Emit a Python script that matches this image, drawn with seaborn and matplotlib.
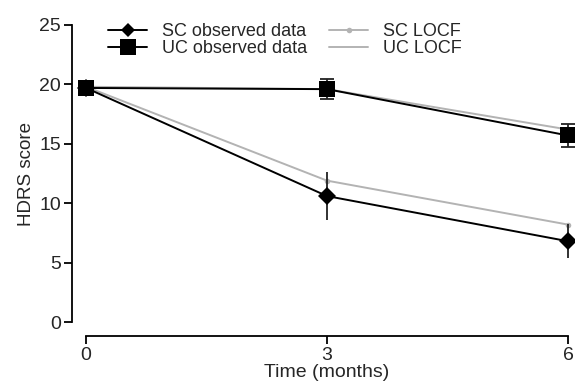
import pandas as pd
import matplotlib.pyplot as plt
import seaborn as sns

plt.switch_backend('Agg')

# Values
months = [0, 3, 6]
sc_observed = [19.7, 10.6, 6.8]
sc_observed_err = [0.3, 2.0, 1.45]
uc_observed = [19.7, 19.6, 15.7]
uc_observed_err = [0.3, 0.85, 1.0]
sc_locf = [19.8, 11.9, 8.2]
uc_locf = [19.8, 19.6, 16.2]

x_ticks = [0, 3, 6]
y_ticks = [0, 5, 10, 15, 20, 25]


def make_plot():
    sns.set_style('ticks')
    plt.rcParams['font.family'] = ['Liberation Sans', 'DejaVu Sans']

    df = pd.DataFrame({
        'month': months * 4,
        'score': sc_observed + uc_observed + sc_locf + uc_locf,
        'series': (['SC observed data'] * 3 + ['UC observed data'] * 3
                   + ['SC LOCF'] * 3 + ['UC LOCF'] * 3),
    })

    fig = plt.figure(figsize=(5.75, 3.82), dpi=100)
    ax = fig.add_axes([0.1496, 0.157, 0.8382, 0.7776])

    grey = '#b3b3b3'
    # LOCF lines in grey first, so they sit behind the observed data
    sns.lineplot(data=df[df.series == 'SC LOCF'], x='month', y='score', ax=ax,
                 color=grey, lw=1.4, marker='o', markersize=4, markeredgewidth=0,
                 label='SC LOCF', clip_on=False)
    sns.lineplot(data=df[df.series == 'UC LOCF'], x='month', y='score', ax=ax,
                 color=grey, lw=1.4, label='UC LOCF', clip_on=False)

    ax.errorbar(months, sc_observed, yerr=sc_observed_err, fmt='none',
                ecolor='#222222', elinewidth=1.3, capsize=0, clip_on=False)
    ax.errorbar(months, uc_observed, yerr=uc_observed_err, fmt='none',
                ecolor='#222222', elinewidth=1.3, capsize=5, capthick=1.3, clip_on=False)

    sns.lineplot(data=df[df.series == 'SC observed data'], x='month', y='score', ax=ax,
                 color='black', lw=1.4, marker='D', markersize=9, markeredgewidth=0,
                 label='SC observed data', clip_on=False)
    sns.lineplot(data=df[df.series == 'UC observed data'], x='month', y='score', ax=ax,
                 color='black', lw=1.4, marker='s', markersize=12, markeredgewidth=0,
                 label='UC observed data', clip_on=False)

    ax.set_xlim(0, 6)
    ax.set_ylim(0, 25)
    ax.set_xticks(x_ticks)
    ax.set_yticks(y_ticks)
    ax.tick_params(labelsize=14, width=1.3, length=6, color='black', pad=2)
    ax.set_xlabel('Time (months)', fontsize=14, labelpad=0)
    ax.set_ylabel('HDRS score', fontsize=13.5, labelpad=3)

    sns.despine(ax=ax, offset=10, trim=True)
    for side in ['left', 'bottom']:
        ax.spines[side].set_linewidth(1.3)
        ax.spines[side].set_color('black')

    handles, labels = ax.get_legend_handles_labels()
    order = [labels.index(n) for n in
             ['SC observed data', 'UC observed data', 'SC LOCF', 'UC LOCF']]
    leg = ax.legend([handles[i] for i in order], [labels[i] for i in order],
                    ncol=2, frameon=False, fontsize=13, loc='upper left',
                    bbox_to_anchor=(0.03, 1.03), handlelength=2.2, handletextpad=0.8,
                    columnspacing=1.2, labelspacing=0.0, borderaxespad=0)
    # smaller diamond in the legend than on the plot
    leg.legend_handles[0].set_markersize(7)

    fig.savefig('out.png', dpi=100)
    plt.close(fig)


if __name__ == "__main__":
    make_plot()
